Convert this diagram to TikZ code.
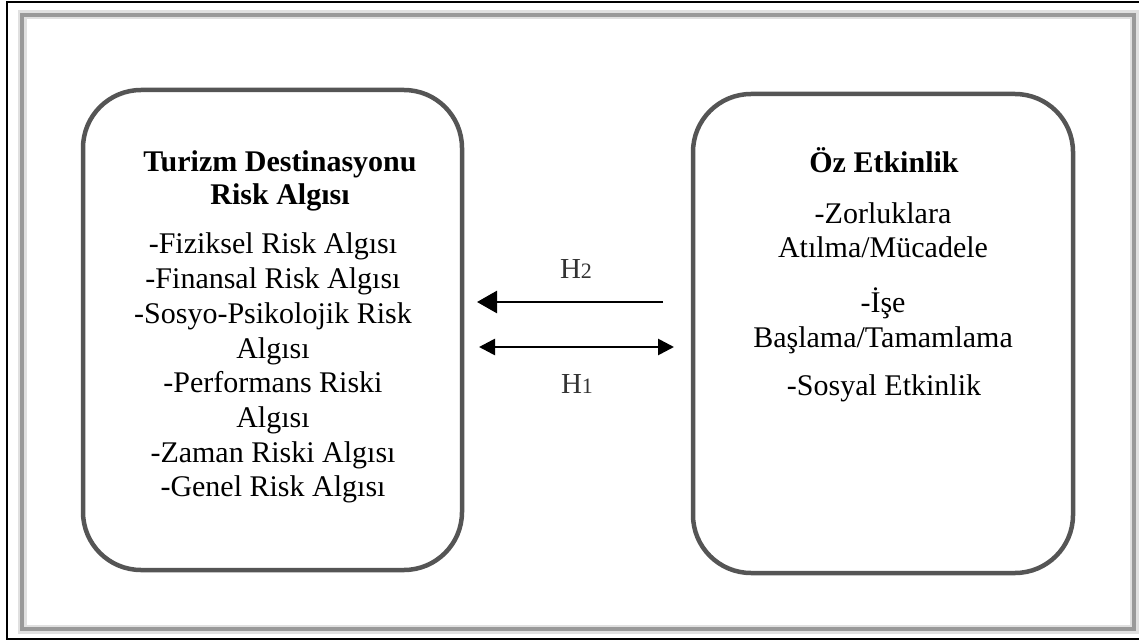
\documentclass[tikz,border=0pt]{standalone}
\usepackage{fontspec}
\setmainfont{Liberation Serif}
\usetikzlibrary{arrows.meta}
\definecolor{boxgray}{HTML}{555555}
\definecolor{labgray}{HTML}{333333}
\newcommand\hlab[1]{H{\fontsize{22}{22}\selectfont #1}}
\begin{document}
\begin{tikzpicture}[x=1pt,y=-1pt,
  txt/.style={anchor=base,inner sep=0pt,font=\fontsize{30}{34}\selectfont},
  ttl/.style={anchor=base,inner sep=0pt,font=\fontsize{30}{34}\selectfont\bfseries},
  box/.style={draw=boxgray,line width=4.5pt,rounded corners=58pt,inner sep=0pt},
  lab/.style={anchor=base,inner sep=0pt,text=labgray,font=\fontsize{29}{32}\selectfont},
  arr/.style={line width=2.7pt,black},
  bigtip/.style={-{Triangle[length=20pt,width=22pt]}},
  smalltip/.style={{Triangle[length=16pt,width=16pt]}-{Triangle[length=16pt,width=16pt]}}]
\useasboundingbox (0,0) rectangle (1139,644);
\fill[white] (0,0) rectangle (1139,644);
% outer black frame
\draw[line width=2pt,black] (1141,2) -- (7,2) -- (7,639) -- (1141,639);
% inner shadowed frame
\draw[line width=9pt,black!12] (22,15) rectangle (1134,629);
\draw[line width=4pt,black!40] (22,15) rectangle (1134,629);
% boxes
\node[box,minimum width=379pt,minimum height=480pt] (lbox) at (272.5,330) {};
\node[box,minimum width=380pt,minimum height=479pt] (rbox) at (883,333.5) {};
% left texts
\node[ttl] (l1) at (280,172) {Turizm Destinasyonu};
\node[ttl] (l2) at (280,205) {Risk Algısı};
\node[txt] (l3) at (273,254) {-Fiziksel Risk Algısı};
\node[txt] (l4) at (273,288.7) {-Finansal Risk Algısı};
\node[txt] (l5) at (273,323.4) {-Sosyo-Psikolojik Risk};
\node[txt] (l6) at (273,358.1) {Algısı};
\node[txt] (l7) at (273,392.8) {-Performans Riski};
\node[txt] (l8) at (273,427.5) {Algısı};
\node[txt] (l9) at (273,462.2) {-Zaman Riski Algısı};
\node[txt] (l10) at (273,496.9) {-Genel Risk Algısı};
% right texts
\node[ttl] (r1) at (884,173) {Öz Etkinlik};
\node[txt] (r2) at (883,224) {-Zorluklara};
\node[txt] (r3) at (883,258) {Atılma/Mücadele};
\node[txt] (r4) at (883,312) {-İşe};
\node[txt] (r5) at (883,347) {Başlama/Tamamlama};
\node[txt] (r6) at (884,395) {-Sosyal Etkinlik};
% arrows
\coordinate (h2s) at (663,302);
\coordinate (h2e) at (477,302);
\coordinate (h1a) at (479,347);
\coordinate (h1b) at (674,347);
\draw[arr,bigtip] (h2s) -- (h2e);
\draw[arr,smalltip] (h1a) -- (h1b);
\node[lab] (h2) at (576,278) {\hlab{2}};
\node[lab] (h1) at (577,393) {\hlab{1}};
\end{tikzpicture}
\end{document}
